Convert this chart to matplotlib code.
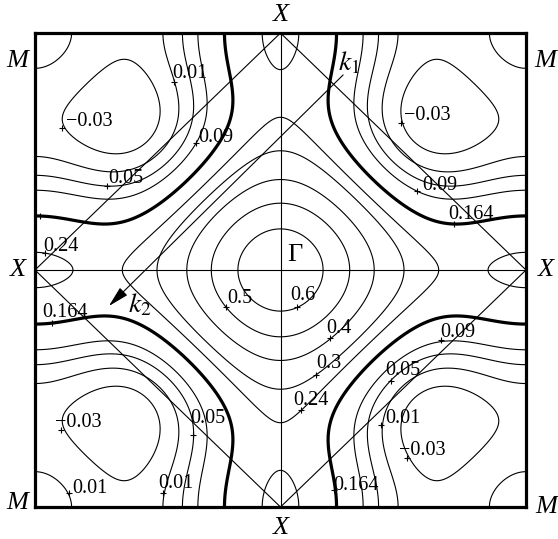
import numpy as np
import matplotlib
matplotlib.use("Agg")
import matplotlib.pyplot as plt

plt.rcParams['mathtext.fontset'] = 'stix'
plt.rcParams['font.family'] = ['Liberation Serif', 'DejaVu Serif']
plt.rcParams['contour.negative_linestyle'] = 'solid'

# Band model coefficients (fitted to the contours of the picture):
# E = a0 + a1(cx+cy) + a2 cx cy + a3(c2x+c2y) + a4(c2x cy + cx c2y)
band_coeffs = [0.152, 0.156, 0.0496, 0.074, 0.006]

# contour levels
thin_levels = [-0.03, 0.01, 0.05, 0.09, 0.24, 0.3, 0.4, 0.5, 0.6]
fermi_level = [0.164]

# contour labels: text, marker point (kx/pi, ky/pi), text anchor (kx/pi, ky/pi)
label_texts = ['0.01', '\u22120.03', '0.09', '0.05', '0.24',
               '\u22120.03', '0.09', '0.164',
               '0.164', '0.5', '\u22120.03', '0.05', '0.01', '0.01',
               '0.6', '0.4', '0.3', '0.24', '0.09', '0.05', '0.01', '\u22120.03', '0.164']
label_marks_u = [-0.434, -0.891, -0.344, -0.708, -0.959,
                 0.492, 0.557, 0.706,
                 -0.932, -0.223, -0.895, -0.355, -0.862, -0.477,
                 0.067, 0.203, 0.143, 0.082, 0.655, 0.449, 0.411, 0.517, 0.217]
label_marks_v = [0.795, 0.598, 0.537, 0.354, 0.072,
                 0.622, 0.335, 0.194,
                 -0.225, -0.155, -0.675, -0.696, -0.942, -0.942,
                 -0.155, -0.288, -0.443, -0.591, -0.295, -0.467, -0.654, -0.795, -0.928]
label_text_u = [-0.439, -0.874, -0.336, -0.703, -0.967,
                0.503, 0.576, 0.682,
                -0.971, -0.218, -0.919, -0.369, -0.849, -0.499,
                0.039, 0.185, 0.145, 0.051, 0.650, 0.426, 0.426, 0.483, 0.214]
label_text_v = [0.810, 0.608, 0.540, 0.367, 0.080,
                0.633, 0.338, 0.215,
                -0.198, -0.139, -0.662, -0.646, -0.941, -0.920,
                -0.127, -0.266, -0.414, -0.570, -0.283, -0.443, -0.646, -0.781, -0.928]
extra_marks_u = [-0.980]
extra_marks_v = [0.228]

# symmetry point labels
point_names = ['M', 'M', 'M', 'M', 'X', 'X', 'X', 'X']
point_u = [-1.073, 1.077, -1.073, 1.081, 0.0, 0.0, -1.069, 1.081]
point_v = [0.880, 0.880, -0.983, -0.998, 1.076, -1.089, 0.0, 0.0]

fig = plt.figure(figsize=(5.58, 5.39), dpi=100)
ax = fig.add_axes([35 / 558, 32 / 539, 491 / 558, 474 / 539])

u = np.linspace(-1, 1, 801)
U, V = np.meshgrid(u, u)
cx, cy = np.cos(np.pi * U), np.cos(np.pi * V)
c2x, c2y = np.cos(2 * np.pi * U), np.cos(2 * np.pi * V)
a0, a1, a2, a3, a4 = band_coeffs
E = a0 + a1 * (cx + cy) + a2 * cx * cy + a3 * (c2x + c2y) + a4 * (c2x * cy + cx * c2y)

ax.contour(U, V, E, levels=thin_levels, colors='k', linewidths=0.8,
           linestyles='solid')
ax.contour(U, V, E, levels=fermi_level, colors='k', linewidths=2.3,
           linestyles='solid')

# axes through Gamma and reduced zone (diamond)
ax.axhline(0, color='k', lw=0.8)
ax.axvline(0, color='k', lw=0.8)
ax.plot([-1, 0, 1, 0, -1], [0, 1, 0, -1, 0], color='k', lw=0.8)

# k1 / k2 line with arrow
ax.annotate('', xy=(-0.699, -0.152), xytext=(0.255, 0.823),
            arrowprops=dict(arrowstyle='-|>,head_length=0.8,head_width=0.2',
                            color='k', lw=0.8,
                            mutation_scale=16, shrinkA=0, shrinkB=0))
ax.text(0.234, 0.844, r'$k_1$', fontsize=20, ha='left', va='baseline')
ax.text(-0.621, -0.181, r'$k_2$', fontsize=20, ha='left', va='baseline')

# contour labels
ax.plot(label_marks_u, label_marks_v, '+', color='k', ms=5, mew=0.8)
ax.plot(extra_marks_u, extra_marks_v, '+', color='k', ms=5, mew=0.8)
for t, tu, tv in zip(label_texts, label_text_u, label_text_v):
    ax.text(tu, tv, t, fontsize=14.5, ha='left', va='baseline')

for n, pu, pv in zip(point_names, point_u, point_v):
    ax.text(pu, pv, n, fontsize=19, style='italic', ha='center', va='center',
            clip_on=False)
ax.text(0.059, 0.063, '\u0393', fontsize=19, ha='center', va='center')

ax.set_xlim(-1, 1)
ax.set_ylim(-1, 1)
ax.set_xticks([])
ax.set_yticks([])
for s in ax.spines.values():
    s.set_linewidth(2.3)

fig.savefig('out.png', dpi=100)
